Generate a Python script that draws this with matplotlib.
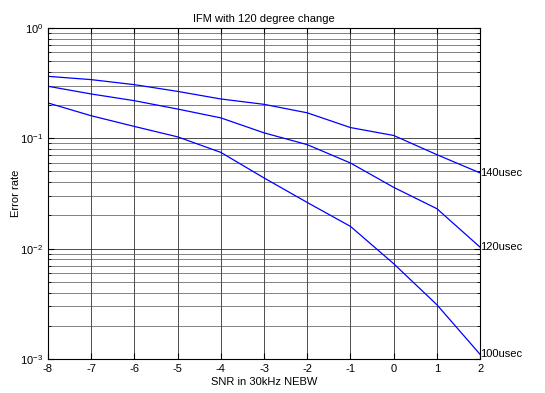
import numpy as np
from matplotlib import pyplot as plt
from matplotlib.ticker import LogLocator, NullFormatter

plt.rcParams['font.family'] = ['Liberation Sans', 'DejaVu Sans']
plt.rcParams['axes.unicode_minus'] = False

snr = [-8, -7, -6, -5, -4, -3, -2, -1, 0, 1, 2]
err_140 = [0.364, 0.34, 0.306, 0.266, 0.227, 0.203, 0.17, 0.125, 0.106, 0.071, 0.0485]
err_120 = [0.296, 0.252, 0.219, 0.184, 0.153, 0.112, 0.0875, 0.0597, 0.0359, 0.023, 0.0103]
err_100 = [0.209, 0.16, 0.128, 0.103, 0.0745, 0.0437, 0.0262, 0.0159, 0.0073, 0.0031, 0.0011]
labels = ["140usec", "120usec", "100usec"]

fig = plt.figure(figsize=(5.45, 3.93), dpi=100)
ax = fig.add_axes([0.088, 0.0865, 0.793, 0.8425])

for ys, lab in zip([err_140, err_120, err_100], labels):
    ax.semilogy(snr, ys, color='#0000ff', lw=0.9)
    ax.text(snr[-1], ys[-1], lab, fontsize=8, ha='left', va='center')

ax.set_xlim(-8, 2)
ax.set_ylim(1e-3, 1)
ax.set_xticks(snr)
ax.yaxis.set_major_locator(LogLocator(base=10, numticks=10))
ax.yaxis.set_minor_locator(LogLocator(base=10, subs=np.arange(2, 10), numticks=10))
ax.yaxis.set_minor_formatter(NullFormatter())

ax.grid(True, which='major', color='#303030', lw=0.6, ls='-')
ax.grid(True, which='minor', axis='y', color='#505050', lw=0.5, ls='-')
ax.tick_params(which='both', direction='in', top=True, right=True, labelsize=8)
ax.tick_params(which='major', length=4)
ax.tick_params(which='minor', length=2.5)
for s in ax.spines.values():
    s.set_linewidth(0.8)

ax.set_title("IFM with 120 degree change", fontsize=8, pad=4)
ax.set_xlabel("SNR in 30kHz NEBW", fontsize=8, labelpad=2)
ax.set_ylabel("Error rate", fontsize=8)
ax.yaxis.set_label_coords(-0.062, 0.5)

fig.savefig("out.png", dpi=100)
